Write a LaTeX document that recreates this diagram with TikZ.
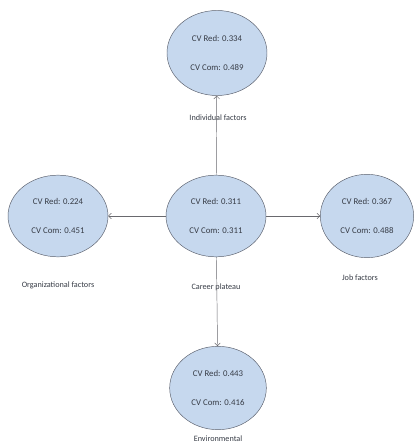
\documentclass[tikz,border=0pt]{standalone}
\usepackage{fontspec}
\setmainfont{Carlito}
\usetikzlibrary{arrows}
\usetikzlibrary{shapes.geometric}

\definecolor{ellfill}{RGB}{198,216,238}
\definecolor{ellline}{RGB}{90,95,108}
\definecolor{arrline}{RGB}{105,105,110}
\definecolor{txtgray}{RGB}{55,60,70}

\begin{document}
\begin{tikzpicture}[
  cv/.style={ellipse,draw=ellline,fill=ellfill,minimum width=3cm,minimum height=2.45cm,
    inner sep=0pt,align=center,text=txtgray,font=\fontsize{7.5}{24.5}\selectfont},
  lbl/.style={text=txtgray,font=\fontsize{7}{8}\selectfont},
  link/.style={->,>=angle 90,draw=arrline}]
\useasboundingbox (0,0) rectangle (12.48,13.44);

\node[cv] (cp)  at (6.48,6.96)  {CV Red: 0.311\\CV Com: 0.311};
\node[cv,minimum height=2.55cm] (ind) at (6.51,11.85) {CV Red: 0.334\\CV Com: 0.489};
\node[cv] (org) at (1.74,6.96)  {CV Red: 0.224\\CV Com: 0.451};
\node[cv,minimum width=2.8cm,minimum height=2.5cm] (job) at (11.01,6.96) {CV Red: 0.367\\CV Com: 0.488};
\node[cv,minimum width=2.9cm,minimum height=2.5cm] (env) at (6.54,1.8) {CV Red: 0.443\\CV Com: 0.416};

\node[lbl] (indl) at (6.54,9.9)  {Individual factors};
\node[lbl] (orgl) at (1.74,4.89) {Organizational factors};
\node[lbl] (cpl)  at (6.48,4.83) {Career plateau};
\node[lbl] (jobl) at (10.8,5.1)  {Job factors};
\node[lbl] (envl) at (6.54,0.27) {Environmental};

\draw[link] (cp) -- (ind);
\draw[link] (cp) -- (org);
\draw[link] (cp) -- (job);
\draw[link] (cp) -- (env);
\end{tikzpicture}
\end{document}
